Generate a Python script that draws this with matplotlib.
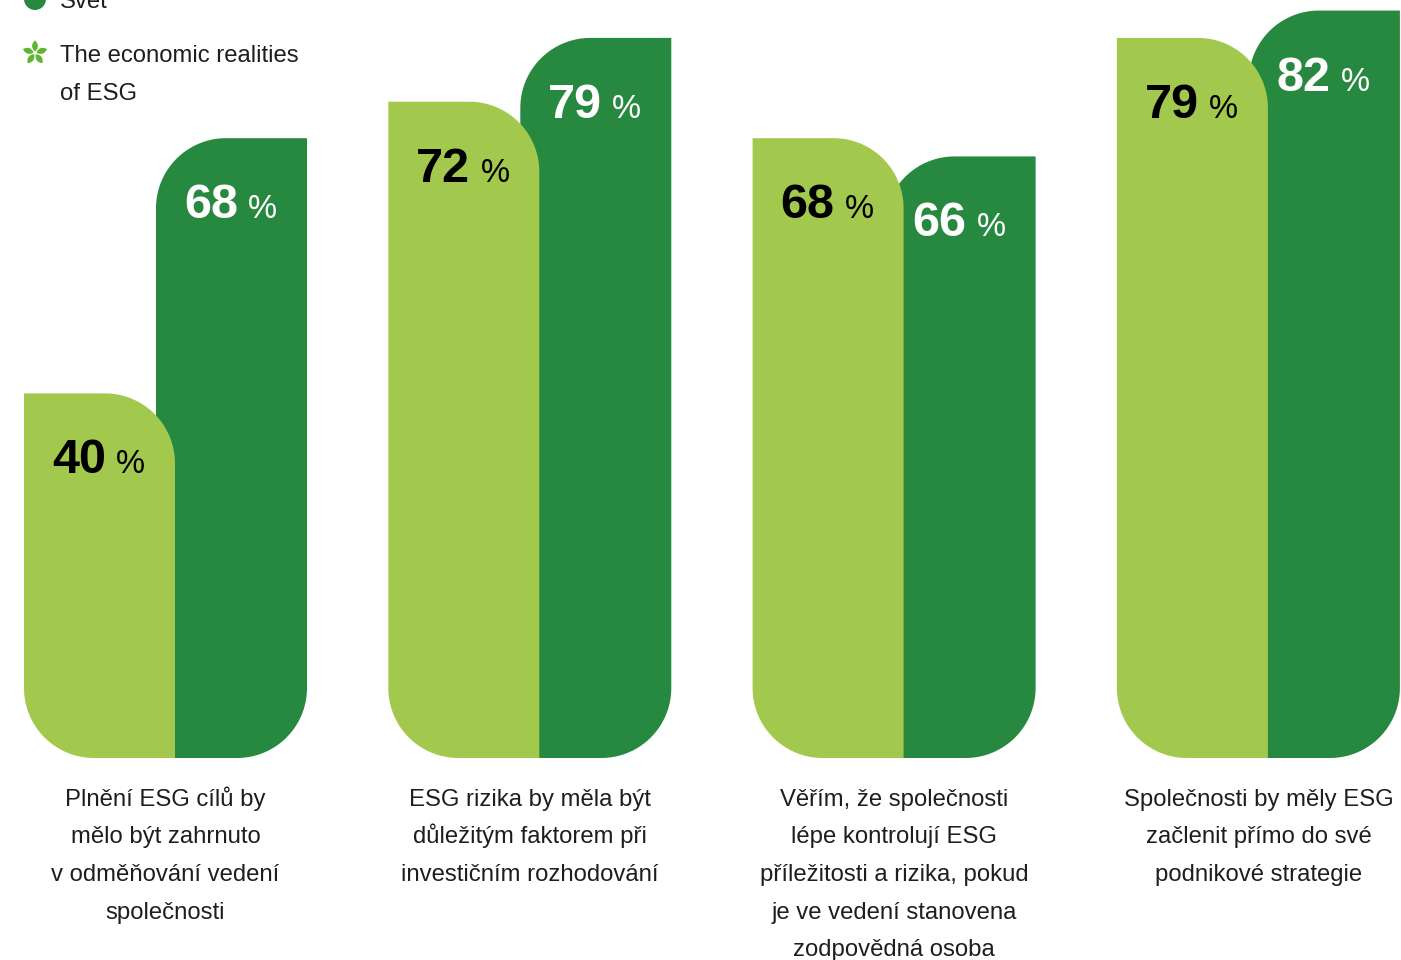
import numpy as np
import matplotlib
matplotlib.use("Agg")
import matplotlib.pyplot as plt
from matplotlib.patches import Polygon

# ---- data -------------------------------------------------------------
categories = [
    "Plnění ESG cílů by\nmělo být zahrnuto\nv odměňování vedení\nspolečnosti",
    "ESG rizika by měla být\ndůležitým faktorem při\ninvestičním rozhodování",
    "Věřím, že společnosti\nlépe kontrolují ESG\npříležitosti a rizika, pokud\nje ve vedení stanovena\nzodpovědná osoba",
    "Společnosti by měly ESG\nzačlenit přímo do své\npodnikové strategie",
]
cesko = [40, 72, 68, 79]   # light series
svet = [68, 79, 66, 82]    # dark series
svet_label = "Svět"
source_note = "The economic realities\nof ESG"

# ---- style ------------------------------------------------------------
LIGHT = "#a3c84e"
DARK = "#278940"
STAR = "#5db532"
TEXT = "#1e1e1e"
FONT = ["Liberation Sans", "DejaVu Sans"]
BODY = 17.2

W, H = 1401, 960
PX = 9.115            # pixels per percentage point
BASE = 758            # pixel row (from top) of the 0 % line
R = 70                # corner radius in pixels

fig = plt.figure(figsize=(W / 100, H / 100), dpi=100)
ax = fig.add_axes([0, 0, 1, 1])
ax.set_xlim(0, W)
ax.set_ylim((BASE - H) / PX, BASE / PX)
ax.axis("off")


def py(row):
    """Pixel row measured from the top -> value on the y axis."""
    return (BASE - row) / PX


def rounded_bar(x0, x1, top, tl, tr, br, bl, color, z):
    rx, ry = R, R / PX
    pts = []
    specs = [
        (bl, (x0, 0), (x0 + rx, ry), 180, 270),
        (br, (x1, 0), (x1 - rx, ry), 270, 360),
        (tr, (x1, top), (x1 - rx, top - ry), 0, 90),
        (tl, (x0, top), (x0 + rx, top - ry), 90, 180),
    ]
    for rounded, corner, (cx, cy), a0, a1 in specs:
        if rounded:
            a = np.radians(np.linspace(a0, a1, 40))
            pts.extend(zip(cx + rx * np.cos(a), cy + ry * np.sin(a)))
        else:
            pts.append(corner)
    ax.add_patch(Polygon(pts, closed=True, facecolor=color,
                         edgecolor="none", zorder=z))


renderer = fig.canvas.get_renderer()


def value_label(x, top, value, color, z):
    y = top - 80 / PX
    t = ax.text(x, y, f"{value}", fontsize=35, fontweight="bold",
                color=color, family=FONT, ha="left", va="baseline", zorder=z)
    bb = t.get_window_extent(renderer)
    xe = ax.transData.inverted().transform((bb.x1, bb.y0))[0]
    ax.text(xe + 10, y, "%", fontsize=23.5, color=color, family=FONT,
            ha="left", va="baseline", zorder=z)


BAR_W = 151
OFFSET = 132
STEP = 364.3
LEFT0 = 24

for i, (cat, a, b) in enumerate(zip(categories, cesko, svet)):
    xl = LEFT0 + i * STEP
    xd = xl + OFFSET
    # dark (world) bar behind, light (Czech) bar in front
    rounded_bar(xd, xd + BAR_W, b, tl=True, tr=False, br=True, bl=False,
                color=DARK, z=1)
    rounded_bar(xl, xl + BAR_W, a, tl=False, tr=True, br=False, bl=True,
                color=LIGHT, z=2)
    value_label(xd + 28, b, b, "white", 3)
    value_label(xl + 28, a, a, "black", 4)

    cx = xl + (OFFSET + BAR_W) / 2
    for k, line in enumerate(cat.split("\n")):
        ax.text(cx, py(806 + k * 37.5), line, fontsize=BODY, color=TEXT,
                family=FONT, ha="center", va="baseline")

# ---- legend -----------------------------------------------------------
ax.scatter([35], [py(-1)], s=250, color=DARK, edgecolor="none",
           clip_on=False, zorder=5)
ax.text(60, py(8), svet_label, fontsize=BODY, color=TEXT, family=FONT,
        ha="left", va="baseline")

# five-petal star marking the source
sx, sy = 35, 53
t = np.linspace(0, 1, 30)
for k in range(5):
    ang = np.radians(90 + 72 * k)
    r = 1.5 + 11.0 * t
    w = 2.9 * np.sin(np.pi * t) ** 0.8
    xs = np.concatenate([r, r[::-1]])
    ws = np.concatenate([w, -w[::-1]])
    px_x = sx + xs * np.cos(ang) - ws * np.sin(ang)
    px_y = sy - (xs * np.sin(ang) + ws * np.cos(ang))
    ax.add_patch(Polygon(np.column_stack([px_x, py(px_y)]), closed=True,
                         facecolor=STAR, edgecolor="none", zorder=5))

for k, line in enumerate(source_note.split("\n")):
    ax.text(60, py(62 + k * 37.5), line, fontsize=BODY, color=TEXT,
            family=FONT, ha="left", va="baseline")

fig.savefig("out.png", dpi=100, facecolor="white")
